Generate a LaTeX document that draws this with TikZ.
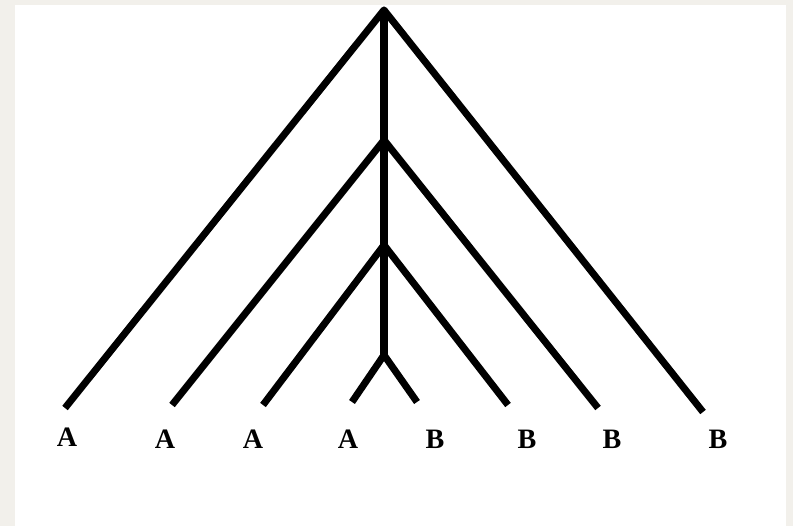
\documentclass[tikz,border=0pt]{standalone}
\usepackage{fontspec}
\setmainfont{Liberation Serif}
\definecolor{pagegray}{RGB}{242, 240, 235}
\usetikzlibrary{positioning}

\begin{document}
\begin{tikzpicture}[x=0.02cm, y=-0.02cm,
    branch/.style={line width=4pt, line join=round},
    leaf/.style={font=\fontsize{16}{18}\selectfont\bfseries, inner sep=0pt}]
% page
\fill[pagegray] (0,0) rectangle (793,526);
\fill[white] (15,5) rectangle (786,526);
\useasboundingbox (0,0) rectangle (793,526);
% junctions
\coordinate (root) at (384,10);
\coordinate (j1) at (384,140);
\coordinate (j2) at (384,245);
\coordinate (j3) at (384,355);
% leaf ends
\coordinate (a1) at (65,408);
\coordinate (a2) at (172,405);
\coordinate (a3) at (263,405);
\coordinate (a4) at (352,402);
\coordinate (b4) at (417,402);
\coordinate (b3) at (508,405);
\coordinate (b2) at (598,408);
\coordinate (b1) at (703,412);
% labels
\node[leaf] (la1) at (67,437) {A};
\node[leaf] (la2) at (165,439) {A};
\node[leaf] (la3) at (253,439) {A};
\node[leaf] (la4) at (348,439) {A};
\node[leaf] (lb4) at (435,439) {B};
\node[leaf] (lb3) at (527,439) {B};
\node[leaf] (lb2) at (612,439) {B};
\node[leaf] (lb1) at (718,439) {B};
% tree
\draw[branch] (root) -- (j1) -- (j2) -- (j3);
\draw[branch] (a1) -- (root) -- (b1);
\draw[branch] (a2) -- (j1) -- (b2);
\draw[branch] (a3) -- (j2) -- (b3);
\draw[branch] (a4) -- (j3) -- (b4);
\end{tikzpicture}
\end{document}
